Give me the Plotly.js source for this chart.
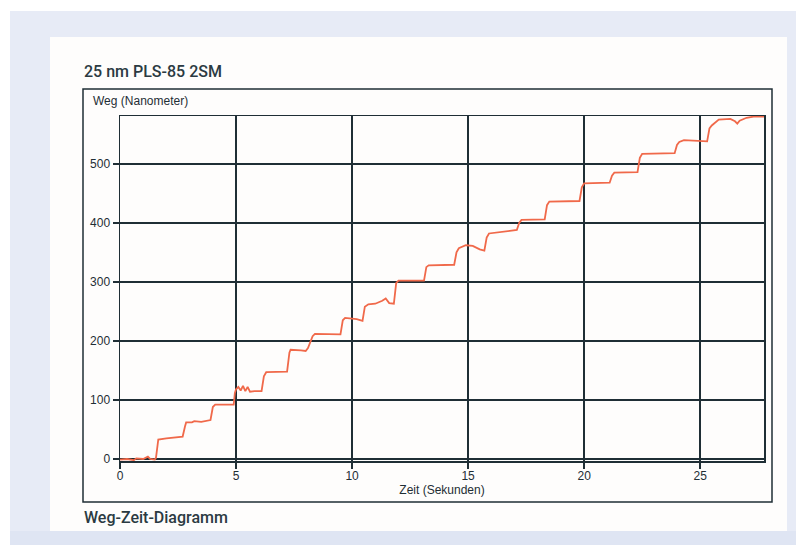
<!DOCTYPE html>
<html>
<head>
<meta charset="utf-8">
<script src="https://cdn.plot.ly/plotly-3.0.1.min.js"></script>
<style>html,body{margin:0;padding:0;background:#fff;}#chart{width:796px;height:545px;}</style>
</head>
<body>
<div id="chart"></div>
<script>
// Time in seconds
const zeit = [0, 0.3, 0.6, 0.7, 1.0, 1.2, 1.3, 1.5, 1.55,
  1.65, 2.0, 2.4, 2.7,
  2.8, 2.85, 3.1, 3.2, 3.5, 3.9,
  4.0, 4.1, 4.9,
  4.95, 5.0, 5.1, 5.2, 5.3, 5.4, 5.5, 5.6, 5.8, 6.1,
  6.2, 6.3, 7.2,
  7.3, 7.35, 7.8, 8.0, 8.1,
  8.2, 8.3, 8.4, 9.5,
  9.6, 9.7, 10.2, 10.45,
  10.55, 10.7, 11.0, 11.3, 11.45, 11.6, 11.8,
  11.9, 12.0, 13.1,
  13.2, 13.3, 14.4,
  14.5, 14.6, 14.9, 15.2, 15.5, 15.7,
  15.8, 15.9, 16.5, 17.1,
  17.2, 17.3, 18.3,
  18.4, 18.5, 19.8,
  19.9, 20.0, 21.1,
  21.2, 21.3, 22.3,
  22.4, 22.5, 23.9,
  24.0, 24.1, 24.3, 25.3,
  25.4, 25.5, 25.8, 26.3, 26.5, 26.6, 26.7, 27.0, 27.3, 27.75];
// Displacement in nanometres
const weg = [-1, 0, -2, 1, 0, 4, 0, -1, 2,
  33, 35, 36, 38,
  55, 62, 62, 64, 63, 66,
  88, 92, 92,
  112, 118, 122, 116, 124, 115, 122, 114, 115, 115,
  140, 147, 148,
  180, 185, 184, 183, 188,
  200, 208, 212, 211,
  235, 239, 237, 234,
  258, 262, 263, 268, 272, 264, 263,
  298, 302, 302,
  325, 328, 329,
  350, 357, 362, 361, 355, 353,
  375, 382, 385, 388,
  400, 405, 406,
  430, 436, 437,
  460, 467, 468,
  480, 485, 486,
  510, 517, 518,
  532, 537, 540, 538,
  560, 565, 575, 576, 572, 568, 573, 578, 580, 580];
const xTicks = [0, 5, 10, 15, 20, 25];
const yTicks = [0, 100, 200, 300, 400, 500];

const dark = '#1f2e35';
const trace = {
  x: zeit, y: weg, type: 'scatter', mode: 'lines',
  line: {color: '#f0694a', width: 1.8},
  hoverinfo: 'skip'
};

const W = 796, H = 545, L = 120, R = 764, T = 116, B = 461;
const px = v => (v - L) / (R - L);
const py = v => (B - v) / (B - T);

const layout = {
  width: W, height: H,
  margin: {l: L, r: W - R, t: T, b: H - B, pad: 0},
  paper_bgcolor: '#ffffff',
  plot_bgcolor: '#ffffff',
  showlegend: false,
  font: {family: 'Liberation Sans, Arial, sans-serif', size: 12, color: dark},
  xaxis: {
    range: [0, 27.75], tickvals: xTicks, ticktext: xTicks.map(String),
    showgrid: true, gridcolor: dark, gridwidth: 1.5,
    showline: true, linecolor: dark, linewidth: 1.5, mirror: true,
    ticks: 'outside', ticklen: 6, tickwidth: 1.5, tickcolor: dark,
    ticklabelstandoff: -3,
    zeroline: false,
    tickfont: {size: 12, color: dark},
    title: {text: 'Zeit (Sekunden)', font: {size: 12, color: dark}, standoff: 0}
  },
  yaxis: {
    range: [-3.4, 581], tickvals: yTicks, ticktext: yTicks.map(String),
    showgrid: true, gridcolor: dark, gridwidth: 1.5,
    showline: true, linecolor: dark, linewidth: 1.5, mirror: true,
    ticks: 'outside', ticklen: 6, tickwidth: 1.5, tickcolor: dark,
    zeroline: true, zerolinecolor: dark, zerolinewidth: 2,
    tickfont: {size: 12, color: dark}
  },
  shapes: [
    {type: 'rect', xref: 'paper', yref: 'paper', layer: 'below',
     x0: px(10), x1: px(796), y0: py(545), y1: py(11),
     fillcolor: '#e7ebf6', line: {width: 0}},
    {type: 'rect', xref: 'paper', yref: 'paper', layer: 'below',
     x0: px(10), x1: px(796), y0: py(545), y1: py(531),
     fillcolor: '#dfe5f3', line: {width: 0}},
    {type: 'rect', xref: 'paper', yref: 'paper', layer: 'below',
     x0: px(50), x1: px(787), y0: py(531), y1: py(37),
     fillcolor: '#fefdfc', line: {width: 0}},
    {type: 'rect', xref: 'paper', yref: 'paper', layer: 'below',
     x0: px(83), x1: px(772), y0: py(502), y1: py(89),
     fillcolor: 'rgba(0,0,0,0)', line: {color: dark, width: 1.5}}
  ],
  annotations: [
    {text: '25 nm PLS-85 2SM', xref: 'paper', yref: 'paper', x: px(82), y: py(72),
     xanchor: 'left', yanchor: 'middle', showarrow: false,
     font: {family: 'Roboto, sans-serif', size: 16, weight: 500, color: '#2b3a42'}},
    {text: 'Weg (Nanometer)', xref: 'paper', yref: 'paper', x: px(91), y: py(101.5),
     xanchor: 'left', yanchor: 'middle', showarrow: false,
     font: {family: 'Liberation Sans, Arial, sans-serif', size: 12, color: dark}},
    {text: 'Weg-Zeit-Diagramm', xref: 'paper', yref: 'paper', x: px(82), y: py(517),
     xanchor: 'left', yanchor: 'middle', showarrow: false,
     font: {family: 'Roboto, sans-serif', size: 16, weight: 500, color: '#2b3a42'}}
  ]
};

Plotly.newPlot('chart', [trace], layout, {displayModeBar: false, staticPlot: true});
</script>
</body>
</html>
